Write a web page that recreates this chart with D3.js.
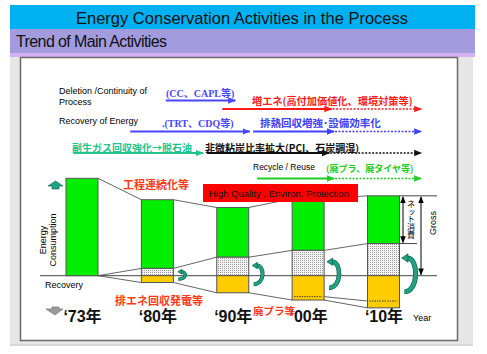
<!DOCTYPE html>
<html>
<head>
<meta charset="UTF-8">
<title>Energy Conservation Activities</title>
<script src="https://d3js.org/d3.v7.min.js"></script>
<style>
  body { margin: 0; background: #fff; }
  svg { display: block; }
  text { font-family: "Liberation Sans", Arial, sans-serif; }
  .jp { font-family: "Noto Sans CJK JP", sans-serif; font-weight: bold; }
</style>
</head>
<body>
<div id="chart"></div>
<script>
// bar data (index, '73 = 100)
const years = ["‘73年", "‘80年", "‘90年", "‘00年", "‘10年"];
const gross = [100, 78, 70, 79, 82];          // top of bar
const recovered = [0, 7.5, 19, 26, 33];       // dotted part above baseline
const yellowDepth = [0, 7, 17.5, 25, 33];     // recovery below baseline
const plasticLine = [null, null, null, 21.5, 26];

// activity arrows on a timeline (start, solid end, dotted end)
const rowLabels = ["増エネ(高付加価値化、環境対策等)", "排熱回収増強･設備効率化", "非微粘炭比率拡大(PCI、石炭調湿)", "(廃プラ、廃タイヤ等)"];
const rowStart = [1990.2, 1994, 1988.3, 1994.5];
const rowSolidEnd = [2003.7, 2004, 2003.4, 2004];
const rowEnd = [2014.8, 2014.8, 2014.8, 2014.8];
const rowColors = ["#ff1a1a", "#4040ff", "#111111", "#22cc22"];
const preLabels = ["(CC、CAPL等)", ".(TRT、CDQ等)", "副生ガス回収強化→脱石油"];
const preStart = [1983.2, 1978.8, 1971.8];
const preEnd = [1991.8, 1993.6, 1987.8];
const preColors = ["#4848ff", "#4848ff", "#20c490"];

const W = 487, H = 354;
const svg = d3.select("#chart").append("svg").attr("width", W).attr("height", H);
const defs = svg.append("defs");

// header
svg.append("rect").attr("x", 10).attr("y", 5).attr("width", 465).attr("height", 24).attr("fill", "#00b0f0");
svg.append("text").attr("x", 242).attr("y", 24).attr("text-anchor", "middle")
  .style("font-size", "16.5px").attr("fill", "#111").text("Energy Conservation  Activities in the Process");
svg.append("rect").attr("x", 10).attr("y", 29).attr("width", 465).attr("height", 24).attr("fill", "#a29bde");
svg.append("rect").attr("x", 10).attr("y", 53).attr("width", 465).attr("height", 4).attr("fill", "#d2b2f2");
svg.append("text").attr("x", 16).attr("y", 47).style("font-size", "16px").style("letter-spacing", "-0.6px")
  .attr("fill", "#111").text("Trend of Main Activities");

// panel
svg.append("rect").attr("x", 10).attr("y", 57).attr("width", 463).attr("height", 287).attr("fill", "#e6e6e6");
svg.append("line").attr("x1", 10).attr("x2", 473).attr("y1", 345).attr("y2", 345).attr("stroke", "#b0b0b0");
svg.append("rect").attr("x", 20.5).attr("y", 57.5).attr("width", 437).attr("height", 283)
  .attr("fill", "#fff").attr("stroke", "#6a6a6a").attr("stroke-width", 1.5);

// patterns & markers
const pat = defs.append("pattern").attr("id", "dots").attr("width", 2).attr("height", 2)
  .attr("patternUnits", "userSpaceOnUse");
pat.append("rect").attr("width", 2).attr("height", 2).attr("fill", "#f4f4f4");
pat.append("rect").attr("width", 1).attr("height", 1).attr("fill", "#9a9a9a");

function marker(id, color, size) {
  defs.append("marker").attr("id", id).attr("viewBox", "0 0 10 10").attr("refX", 9).attr("refY", 5)
    .attr("markerUnits", "userSpaceOnUse").attr("markerWidth", size).attr("markerHeight", size)
    .attr("orient", "auto-start-reverse")
    .append("path").attr("d", "M0,1 L10,5 L0,9 Z").attr("fill", color);
}
rowColors.concat(preColors).forEach(c => marker("m" + c.slice(1), c, 8));
marker("mblk", "#000", 7);

// scales
const x = d3.scalePoint().domain(years).range([82, 383.5]);
const bw = 32;
const y = d3.scaleLinear().domain([0, 100]).range([275.7, 178.3]);
const t = d3.scaleLinear().domain([1970, 2015]).range([59, 423]);

// activity rows
const rowY = [109, 131.5, 153, 178.5];
const labelY = [105, 127, 152, 172];
svg.append("text").attr("x", 59).attr("y", 94).style("font-size", "9px").text("Deletion /Continuity of");
svg.append("text").attr("x", 59).attr("y", 105).style("font-size", "9px").text("Process");
svg.append("text").attr("x", 59).attr("y", 124).style("font-size", "9px").text("Recovery of Energy");
svg.append("text").attr("x", 253).attr("y", 170).style("font-size", "8.5px").text("Recycle / Reuse");

const preY = [100.5, 131.5, 153];
preLabels.forEach((lab, i) => {
  svg.append("line").attr("x1", t(preStart[i])).attr("x2", t(preEnd[i])).attr("y1", preY[i]).attr("y2", preY[i])
    .attr("stroke", preColors[i]).attr("stroke-width", 2).attr("marker-end", `url(#m${preColors[i].slice(1)})`);
});
svg.append("text").attr("x", 166).attr("y", 97).style("font-family", "'Liberation Serif', 'Noto Sans CJK JP'")
  .style("font-size", "10px").style("font-weight", "bold").attr("fill", preColors[0]).text(preLabels[0]);
svg.append("text").attr("x", 162).attr("y", 127).style("font-family", "'Liberation Serif', 'Noto Sans CJK JP'")
  .style("font-size", "10px").style("font-weight", "bold").attr("fill", preColors[1]).text(preLabels[1]);
svg.append("text").attr("class", "jp").attr("x", 72).attr("y", 152).style("font-size", "10px")
  .attr("fill", preColors[2]).text(preLabels[2]);

const rowLabelX = [252, 260, 205, 326];
const rowLabelSize = ["10.2px", "10.5px", "10px", "9px"];
rowLabels.forEach((lab, i) => {
  const c = rowColors[i], m = `url(#m${c.slice(1)})`;
  svg.append("line").attr("x1", t(rowStart[i])).attr("x2", t(rowSolidEnd[i])).attr("y1", rowY[i]).attr("y2", rowY[i])
    .attr("stroke", c).attr("stroke-width", 2).attr("marker-end", m);
  svg.append("line").attr("x1", t(rowSolidEnd[i]) + 1).attr("x2", t(rowEnd[i])).attr("y1", rowY[i]).attr("y2", rowY[i])
    .attr("stroke", c).attr("stroke-width", 1.6).attr("stroke-dasharray", "2,1.5").attr("marker-end", m);
  svg.append("text").attr("class", "jp").attr("x", rowLabelX[i]).attr("y", labelY[i])
    .style("font-size", rowLabelSize[i]).attr("fill", i === 2 ? "#111" : c).text(lab);
});

// connectors between bars
const conn = svg.append("g").attr("stroke", "#666").attr("stroke-width", 1).attr("fill", "none");
for (let i = 0; i < years.length - 1; i++) {
  const xr = x(years[i]) + bw / 2, xl = x(years[i + 1]) - bw / 2;
  [[gross[i], gross[i + 1]], [recovered[i], recovered[i + 1]], [-yellowDepth[i], -yellowDepth[i + 1]]]
    .forEach(([a, b]) => conn.append("line").attr("x1", xr).attr("y1", y(a)).attr("x2", xl).attr("y2", y(b)));
  if (plasticLine[i] != null && plasticLine[i + 1] != null)
    conn.append("line").attr("x1", xr).attr("y1", y(-plasticLine[i])).attr("x2", xl).attr("y2", y(-plasticLine[i + 1]));
}

// baseline and right side guide lines
const last = years.length - 1;
svg.append("line").attr("x1", 40).attr("x2", 437).attr("y1", y(0)).attr("y2", y(0)).attr("stroke", "#444");
svg.append("line").attr("x1", x(years[last]) + bw / 2).attr("x2", 437).attr("y1", y(gross[last])).attr("y2", y(gross[last])).attr("stroke", "#444");
svg.append("line").attr("x1", x(years[last]) + bw / 2).attr("x2", 417).attr("y1", y(recovered[last])).attr("y2", y(recovered[last])).attr("stroke", "#444");

// bars
const bars = svg.append("g").selectAll("g").data(years).join("g");
bars.append("rect").attr("x", d => x(d) - bw / 2).attr("width", bw)
  .attr("y", (d, i) => y(gross[i])).attr("height", (d, i) => y(recovered[i]) - y(gross[i]))
  .attr("fill", "#00ee00").attr("stroke", "#555");
bars.filter((d, i) => recovered[i] > 0).append("rect").attr("x", d => x(d) - bw / 2).attr("width", bw)
  .attr("y", d => y(recovered[years.indexOf(d)])).attr("height", d => y(0) - y(recovered[years.indexOf(d)]))
  .attr("fill", "url(#dots)").attr("stroke", "#555");
bars.filter((d, i) => yellowDepth[i] > 0).append("rect").attr("x", d => x(d) - bw / 2).attr("width", bw)
  .attr("y", y(0)).attr("height", d => y(-yellowDepth[years.indexOf(d)]) - y(0))
  .attr("fill", "#ffcc00").attr("stroke", "#555");
bars.filter((d, i) => plasticLine[i] != null).append("line")
  .attr("x1", d => x(d) - bw / 2 + 2).attr("x2", d => x(d) + bw / 2 - 2)
  .attr("y1", d => y(-plasticLine[years.indexOf(d)])).attr("y2", d => y(-plasticLine[years.indexOf(d)]))
  .attr("stroke", "#444").attr("stroke-dasharray", "1.5,1");

// curled recovery arrows
function curl(x0, yTop, yBot, w, sw) {
  const g = svg.append("g");
  const d = `M${x0},${yBot} C${x0 + w},${yBot} ${x0 + w},${yTop} ${x0 + 3},${yTop}`;
  g.append("path").attr("d", d).attr("fill", "none").attr("stroke", "#0c5a46").attr("stroke-width", sw + 1.2);
  g.append("path").attr("d", d).attr("fill", "none").attr("stroke", "#1fa383").attr("stroke-width", sw);
  const h = sw * 1.1, tx = x0 + 3 - h * 1.4, ty = yTop;
  g.append("path").attr("d", `M${tx},${ty} L${x0 + 3.5},${ty - h} L${x0 + 3.5},${ty + h} Z`)
    .attr("fill", "#1fa383").attr("stroke", "#0c5a46").attr("stroke-width", 0.7);
}
years.forEach((d, i) => {
  if (recovered[i] <= 0) return;
  curl(x(d) + bw / 2 + 5, y(recovered[i] * 0.55), y(-yellowDepth[i] * 0.5),
       7 + recovered[i] * 0.22, 1.8 + recovered[i] * 0.06);
});

// up / down arrows on left
svg.append("path").attr("d", "M48,186 L55.5,181 L63,186 L59,186 L59,189 L52,189 L52,186 Z")
  .attr("fill", "#1fa383").attr("stroke", "#0c5a46").attr("stroke-width", 0.6);
svg.append("path").attr("d", "M46,309 L52,309 L52,307 L59,307 L59,309 L63,309 L55,315 Z")
  .attr("fill", "#9a9a9a").attr("stroke", "#666").attr("stroke-width", 0.6);

// axis-like labels
const xAxis = svg.append("g").attr("transform", "translate(0,306)")
  .call(d3.axisBottom(x).tickSize(0).tickPadding(0));
xAxis.select(".domain").remove();
xAxis.selectAll("text").attr("dy", "1em").style("font-size", "16px").style("font-weight", "bold")
  .style("font-family", "'Liberation Sans', 'Noto Sans CJK JP'").attr("fill", "#111");
svg.append("text").attr("x", 413).attr("y", 321).style("font-size", "9px").text("Year");

svg.append("text").attr("x", 45).attr("y", 288).style("font-size", "9px").text("Recovery");
svg.append("text").attr("transform", "translate(46,240) rotate(-90)").attr("text-anchor", "middle")
  .style("font-size", "9px").text("Energy");
svg.append("text").attr("transform", "translate(56,240) rotate(-90)").attr("text-anchor", "middle")
  .style("font-size", "9px").text("Consumption");

// red annotations
svg.append("text").attr("class", "jp").attr("x", 123).attr("y", 189).style("font-size", "11px").attr("fill", "#ff3a1a").text("工程連続化等");
svg.append("text").attr("class", "jp").attr("x", 115).attr("y", 305).style("font-size", "11px").attr("fill", "#ff3a1a").text("排エネ回収発電等");
svg.append("text").attr("class", "jp").attr("x", 253).attr("y", 315).style("font-size", "10.5px").attr("fill", "#ff3a1a").text("廃プラ等");

svg.append("rect").attr("x", 203).attr("y", 184).attr("width", 155).attr("height", 18).attr("fill", "#ff0000");
svg.append("text").attr("x", 209).attr("y", 196.5).style("font-size", "9.5px").attr("fill", "#111")
  .text("High Quality , Environ. Protection");

// net / gross double arrows
const xn = 403, xg = 421;
svg.append("line").attr("x1", xn).attr("x2", xn).attr("y1", y(gross[last]) + 1).attr("y2", y(recovered[last]) - 1)
  .attr("stroke", "#000").attr("marker-start", "url(#mblk)").attr("marker-end", "url(#mblk)");
svg.append("line").attr("x1", xg).attr("x2", xg).attr("y1", y(gross[last]) + 1).attr("y2", y(0) - 1)
  .attr("stroke", "#000").attr("marker-start", "url(#mblk)").attr("marker-end", "url(#mblk)");
svg.append("text").attr("class", "jp").attr("x", 411).attr("y", 200)
  .style("writing-mode", "vertical-rl").style("font-size", "8px").style("font-weight", "normal")
  .style("letter-spacing", "-0.3px").text("ネット消費");
svg.append("text").attr("transform", "translate(436,223) rotate(-90)").attr("text-anchor", "middle")
  .style("font-size", "9px").text("Gross");
</script>
</body>
</html>
